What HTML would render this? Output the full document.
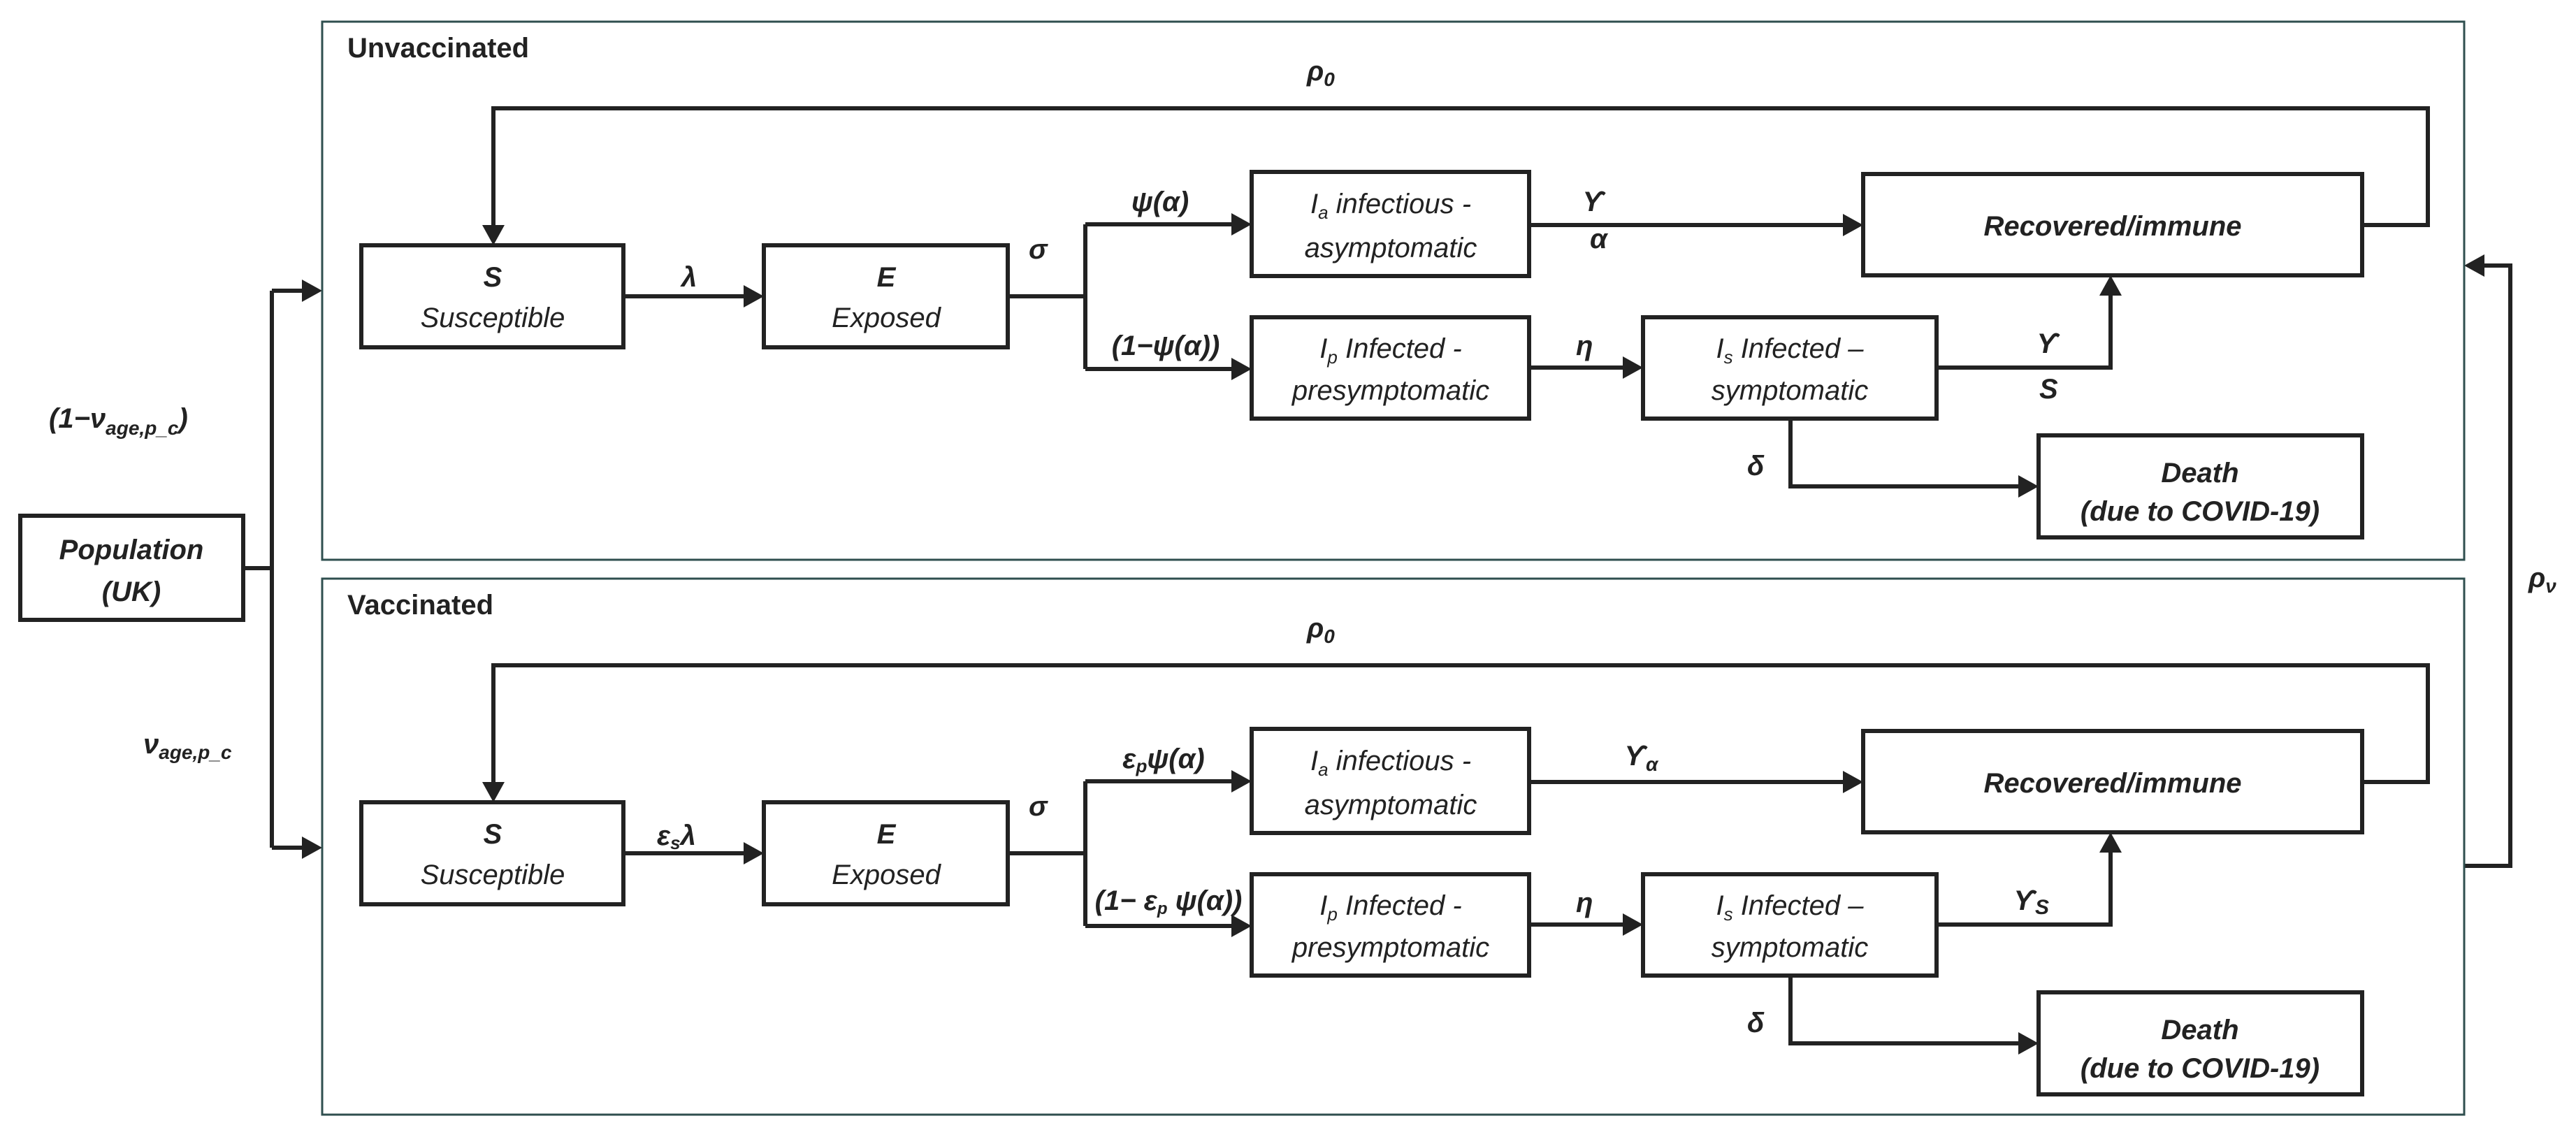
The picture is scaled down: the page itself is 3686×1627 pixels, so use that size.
<!DOCTYPE html>
<html><head><meta charset="utf-8"><style>
html,body{margin:0;padding:0;background:#fff;}
svg{display:block}
text{font-family:"Liberation Sans",sans-serif;fill:#222;}
.bx{fill:#fff;stroke:#222;stroke-width:6}
.ln{fill:none;stroke:#222;stroke-width:6}
.ob{fill:none;stroke:#2f4f4f;stroke-width:3}
.t{font-style:italic;font-size:40px;text-anchor:middle}
.b{font-weight:bold}
.lab{font-style:italic;font-weight:bold;font-size:40px}
</style></head><body>
<svg width="3686" height="1627" viewBox="0 0 3686 1627" xmlns="http://www.w3.org/2000/svg">
<defs>
<marker id="ar" markerWidth="10" markerHeight="10" refX="9" refY="5" orient="auto" markerUnits="userSpaceOnUse" viewBox="0 0 10 10" style="overflow:visible">
</marker>
</defs>

<!-- left population part -->
<rect class="bx" x="29" y="738" width="319" height="149"/>
<text class="t b" x="188" y="800" font-size="42">Population</text>
<text class="t b" x="188" y="860" font-size="42">(UK)</text>
<path class="ln" d="M348,813 H389 M389,416 V1213 M389,416 H432 M389,1213 H432"/>
<polygon points="432,400 461,416 432,432" fill="#222"/>
<polygon points="432,1197 461,1213 432,1229" fill="#222"/>
<text class="lab" x="70" y="612">(1−ν<tspan font-size="28" dy="10">age,p_c</tspan><tspan dy="-10">)</tspan></text>
<text class="lab" x="205" y="1078">ν<tspan font-size="28" dy="8">age,p_c</tspan></text>

<!-- right rho_v -->
<path class="ln" d="M3526,1239 H3592 V380 H3555"/>
<polygon points="3555,364 3526,380 3555,396" fill="#222"/>
<text class="lab" x="3618" y="840">ρ<tspan font-size="28" dy="8">ν</tspan></text>

<!-- UNVACCINATED -->
<g>
<rect class="ob" x="461" y="31" width="3065" height="770"/>
<text class="b" x="497" y="82" font-size="40">Unvaccinated</text>
<text class="lab" x="1870" y="115">ρ<tspan font-size="28" dy="8">0</tspan></text>
<path class="ln" d="M3380,322 H3474 V155 H706 V322"/>
<polygon points="690,322 706,351 722,322" fill="#222"/>
<rect class="bx" x="517" y="351" width="375" height="146"/>
<text class="t b" x="705" y="410">S</text>
<text class="t" x="705" y="468">Susceptible</text>
<path class="ln" d="M892,424 H1064"/><polygon points="1064,408 1093,424 1064,440" fill="#222"/>
<text class="lab" x="975" y="410">λ</text>
<rect class="bx" x="1093" y="351" width="349" height="146"/>
<text class="t b" x="1268" y="410">E</text>
<text class="t" x="1268" y="468">Exposed</text>
<path class="ln" d="M1442,424 H1553 M1553,321 V528 M1553,321 H1762 M1553,528 H1762"/>
<polygon points="1762,305 1791,321 1762,337" fill="#222"/>
<polygon points="1762,512 1791,528 1762,544" fill="#222"/>
<text class="lab" x="1472" y="370">σ</text>
<text class="lab" x="1660" y="302" text-anchor="middle">ψ(α)</text>
<text class="lab" x="1668" y="508" text-anchor="middle">(1−ψ(α))</text>
<rect class="bx" x="1791" y="246" width="397" height="149"/>
<text class="t" x="1990" y="305">I<tspan font-size="26" dy="8">a</tspan><tspan dy="-8"> infectious -</tspan></text>
<text class="t" x="1990" y="368">asymptomatic</text>
<path class="ln" d="M2188,322 H2637"/><polygon points="2637,306 2666,322 2637,338" fill="#222"/>
<text class="lab" x="2265" y="302">ϒ</text>
<text class="lab" x="2275" y="355" font-size="26">α</text>
<rect class="bx" x="2666" y="249" width="714" height="145"/>
<text class="t b" x="3023" y="337" font-size="42">Recovered/immune</text>
<rect class="bx" x="1791" y="454" width="397" height="145"/>
<text class="t" x="1990" y="512">I<tspan font-size="26" dy="8">p</tspan><tspan dy="-8"> Infected -</tspan></text>
<text class="t" x="1990" y="572">presymptomatic</text>
<path class="ln" d="M2188,526 H2322"/><polygon points="2322,510 2351,526 2322,542" fill="#222"/>
<text class="lab" x="2255" y="508">η</text>
<rect class="bx" x="2351" y="454" width="420" height="145"/>
<text class="t" x="2561" y="512">I<tspan font-size="26" dy="8">s</tspan><tspan dy="-8">  Infected –</tspan></text>
<text class="t" x="2561" y="572">symptomatic</text>
<path class="ln" d="M2771,526 H3020 V423"/><polygon points="3004,423 3020,394 3036,423" fill="#222"/>
<text class="lab" x="2915" y="505">ϒ</text>
<text class="lab" x="2918" y="570" font-size="28">S</text>
<path class="ln" d="M2562,599 V696 H2888"/><polygon points="2888,680 2917,696 2888,712" fill="#222"/>
<text class="lab" x="2500" y="680">δ</text>
<rect class="bx" x="2917" y="623" width="463" height="146"/>
<text class="t b" x="3148" y="690" font-size="42">Death</text>
<text class="t b" x="3148" y="745" font-size="32">(due to COVID-19)</text>
</g>

<!-- VACCINATED -->
<g transform="translate(0,797)">
<rect class="ob" x="461" y="31" width="3065" height="767"/>
<text class="b" x="497" y="82" font-size="40">Vaccinated</text>
<text class="lab" x="1870" y="115">ρ<tspan font-size="28" dy="8">0</tspan></text>
<path class="ln" d="M3380,322 H3474 V155 H706 V322"/>
<polygon points="690,322 706,351 722,322" fill="#222"/>
<rect class="bx" x="517" y="351" width="375" height="146"/>
<text class="t b" x="705" y="410">S</text>
<text class="t" x="705" y="468">Susceptible</text>
<path class="ln" d="M892,424 H1064"/><polygon points="1064,408 1093,424 1064,440" fill="#222"/>
<text class="lab" x="940" y="412">ε<tspan font-size="26" dy="6">s</tspan><tspan dy="-6">λ</tspan></text>
<rect class="bx" x="1093" y="351" width="349" height="146"/>
<text class="t b" x="1268" y="410">E</text>
<text class="t" x="1268" y="468">Exposed</text>
<path class="ln" d="M1442,424 H1553 M1553,321 V528 M1553,321 H1762 M1553,528 H1762"/>
<polygon points="1762,305 1791,321 1762,337" fill="#222"/>
<polygon points="1762,512 1791,528 1762,544" fill="#222"/>
<text class="lab" x="1472" y="370">σ</text>
<text class="lab" x="1665" y="302" text-anchor="middle">ε<tspan font-size="26" dy="6">p</tspan><tspan dy="-6">ψ(α)</tspan></text>
<text class="lab" x="1672" y="505" text-anchor="middle" font-size="34">(1− ε<tspan font-size="24" dy="6">p</tspan><tspan dy="-6"> ψ(α))</tspan></text>
<rect class="bx" x="1791" y="246" width="397" height="149"/>
<text class="t" x="1990" y="305">I<tspan font-size="26" dy="8">a</tspan><tspan dy="-8"> infectious -</tspan></text>
<text class="t" x="1990" y="368">asymptomatic</text>
<path class="ln" d="M2188,322 H2637"/><polygon points="2637,306 2666,322 2637,338" fill="#222"/>
<text class="lab" x="2325" y="298">ϒ<tspan font-size="28" dy="8">α</tspan></text>
<rect class="bx" x="2666" y="249" width="714" height="145"/>
<text class="t b" x="3023" y="337" font-size="42">Recovered/immune</text>
<rect class="bx" x="1791" y="454" width="397" height="145"/>
<text class="t" x="1990" y="512">I<tspan font-size="26" dy="8">p</tspan><tspan dy="-8"> Infected -</tspan></text>
<text class="t" x="1990" y="572">presymptomatic</text>
<path class="ln" d="M2188,526 H2322"/><polygon points="2322,510 2351,526 2322,542" fill="#222"/>
<text class="lab" x="2255" y="508">η</text>
<rect class="bx" x="2351" y="454" width="420" height="145"/>
<text class="t" x="2561" y="512">I<tspan font-size="26" dy="8">s</tspan><tspan dy="-8">  Infected –</tspan></text>
<text class="t" x="2561" y="572">symptomatic</text>
<path class="ln" d="M2771,526 H3020 V423"/><polygon points="3004,423 3020,394 3036,423" fill="#222"/>
<text class="lab" x="2882" y="505">ϒ<tspan font-size="30" dy="6">S</tspan></text>
<path class="ln" d="M2562,599 V696 H2888"/><polygon points="2888,680 2917,696 2888,712" fill="#222"/>
<text class="lab" x="2500" y="680">δ</text>
<rect class="bx" x="2917" y="623" width="463" height="146"/>
<text class="t b" x="3148" y="690" font-size="42">Death</text>
<text class="t b" x="3148" y="745" font-size="32">(due to COVID-19)</text>
</g>
</svg>
</body></html>
